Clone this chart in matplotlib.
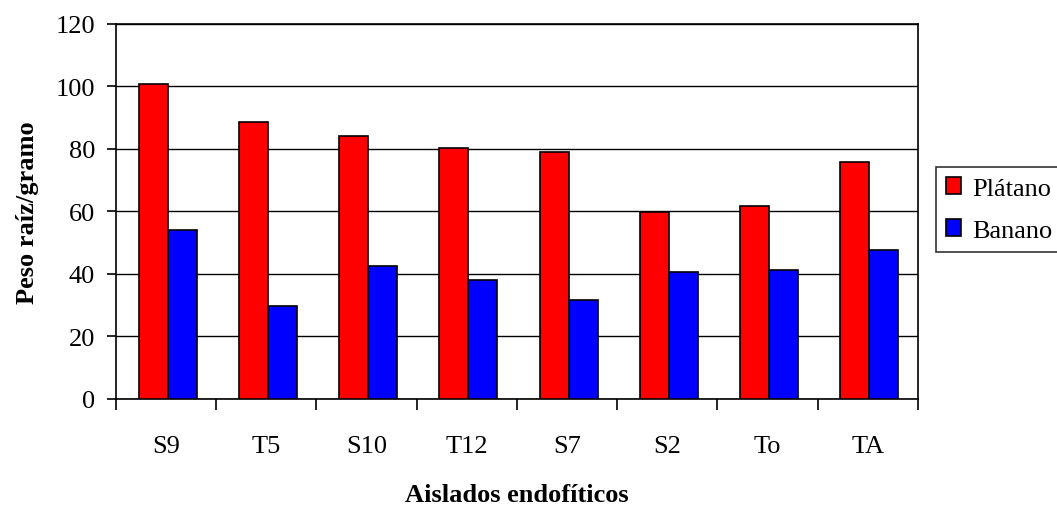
import matplotlib
matplotlib.use("Agg")
import matplotlib.pyplot as plt
import numpy as np

categories = ["S9", "T5", "S10", "T12", "S7", "S2", "To", "TA"]
platano = [100.7, 88.7, 84.2, 80.4, 79.1, 59.9, 61.8, 75.9]
banano = [54.1, 29.8, 42.6, 38.1, 31.8, 40.7, 41.4, 47.7]
yticks = [0, 20, 40, 60, 80, 100, 120]

plt.rcParams['font.family'] = ['Liberation Serif', 'DejaVu Serif']
FS = 19
fig = plt.figure(figsize=(10.57, 5.06), dpi=100)
ax = fig.add_axes([0.1097, 0.2095, 0.7588, 0.9512 - 0.2095])

x = np.arange(len(categories))
w = 0.29
ax.bar(x - w / 2 + 0.015, platano, width=w, color='#ff0000', edgecolor='black', linewidth=1.2, label='Plátano', zorder=3)
ax.bar(x + w / 2 + 0.015, banano, width=w, color='#0000ff', edgecolor='black', linewidth=1.2, label='Banano', zorder=3)

ax.set_xlim(-0.5, len(categories) - 0.5)
ax.set_ylim(0, 120)
ax.set_yticks(yticks)
ax.yaxis.grid(True, color='black', linewidth=1.0, zorder=0)
ax.set_axisbelow(True)

ax.set_xticks(x)
ax.set_xticklabels(categories)
ax.set_xticks(np.arange(len(categories) + 1) - 0.5, minor=True)
ax.tick_params(axis='x', which='major', length=0, pad=26, labelsize=FS)
ax.tick_params(axis='x', which='minor', length=7.7, width=1.2, direction='out')
ax.tick_params(axis='y', which='major', length=6.2, width=1.2, direction='out', labelsize=FS, pad=8.9)

for s in ax.spines.values():
    s.set_color('black')
    s.set_linewidth(1.2)

ax.set_xlabel('Aislados endofíticos', fontsize=FS, fontweight='bold', labelpad=18.5)
ax.set_ylabel('Peso raíz/gramo', fontsize=FS, fontweight='bold', labelpad=12)

leg = fig.legend(loc='upper left', bbox_to_anchor=(0.8853, 1 - 168.3 / 506), fontsize=FS,
                 frameon=True, fancybox=False, edgecolor='black', handlelength=0.6,
                 handleheight=0.6, handletextpad=0.4, borderpad=0.375, labelspacing=0.73,
                 borderaxespad=0)
leg.get_frame().set_linewidth(1.2)

fig.savefig('out.png', dpi=100)
